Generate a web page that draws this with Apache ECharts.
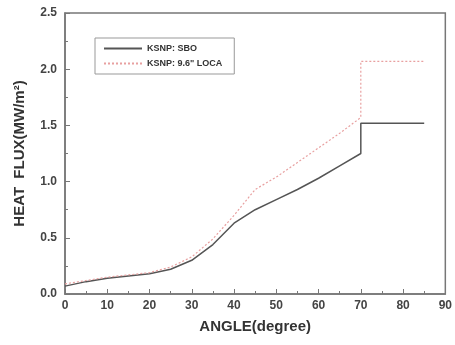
<!DOCTYPE html>
<html>
<head>
<meta charset="utf-8">
<script src="https://cdn.jsdelivr.net/npm/echarts@6/dist/echarts.min.js"></script>
<style>
  html, body { margin: 0; padding: 0; background: #fff; }
  #chart { width: 455px; height: 345px; }
</style>
</head>
<body>
<div id="chart"></div>
<script>
// angles (degree) and heat flux (MW/m2)
const sboAngle = [0, 5, 10, 15, 20, 25, 30, 35, 40, 45, 50, 55, 60, 65, 70, 70, 85];
const sboFlux = [0.07, 0.11, 0.14, 0.16, 0.18, 0.22, 0.30, 0.44, 0.63, 0.75, 0.84, 0.93, 1.03, 1.14, 1.25, 1.52, 1.52];

const locaAngle = [0, 5, 10, 15, 20, 25, 30, 35, 40, 45, 50, 55, 60, 65, 70, 70, 85];
const locaFlux = [0.09, 0.12, 0.15, 0.17, 0.19, 0.24, 0.33, 0.49, 0.70, 0.93, 1.04, 1.17, 1.30, 1.43, 1.57, 2.07, 2.07];

const seriesNames = ["KSNP: SBO", "KSNP: 9.6\" LOCA"];

const pairs = (xs, ys) => xs.map((x, i) => [x, ys[i]]);

const chart = echarts.init(document.getElementById("chart"));

const axisCol = "#777";
const labelStyle = { color: "#444", fontWeight: "bold", fontSize: 12, fontFamily: "Liberation Sans, Arial" };

const option = {
  animation: false,
  grid: {
    left: 65, right: 7, top: 13, bottom: 51,
    show: true, borderColor: axisCol, borderWidth: 1.5
  },
  legend: {
    left: 95, top: 38,
    orient: "vertical",
    itemWidth: 38, itemHeight: 8, itemGap: 6,
    padding: [6, 12, 6, 8],
    borderColor: "#999", borderWidth: 1,
    itemStyle: { opacity: 0 },
    textStyle: { color: "#333", fontWeight: "bold", fontSize: 9, fontFamily: "Liberation Sans, Arial" },
    data: seriesNames
  },
  xAxis: {
    type: "value", min: 0, max: 90, interval: 10,
    name: "ANGLE(degree)", nameLocation: "middle", nameGap: 25,
    nameTextStyle: { color: "#333", fontWeight: "bold", fontSize: 15, fontFamily: "Liberation Sans, Arial" },
    axisLine: { show: true, lineStyle: { color: axisCol, width: 1.5 } },
    axisTick: { inside: true, length: 5, lineStyle: { color: axisCol } },
    minorTick: { show: true, splitNumber: 2, length: 3, lineStyle: { color: axisCol } },
    axisLabel: Object.assign({ margin: 6 }, labelStyle),
    splitLine: { show: false }
  },
  yAxis: {
    type: "value", min: 0, max: 2.5, interval: 0.5,
    name: "HEAT  FLUX(MW/m²)", nameLocation: "middle", nameGap: 38,
    nameTextStyle: { color: "#333", fontWeight: "bold", fontSize: 15, fontFamily: "Liberation Sans, Arial" },
    axisLine: { show: true, lineStyle: { color: axisCol, width: 1.5 } },
    axisTick: { inside: true, length: 5, lineStyle: { color: axisCol } },
    minorTick: { show: true, splitNumber: 2, length: 3, lineStyle: { color: axisCol } },
    axisLabel: Object.assign({ margin: 8, formatter: v => v.toFixed(1) }, labelStyle),
    splitLine: { show: false }
  },
  series: [
    {
      name: seriesNames[0],
      type: "line", symbol: "none",
      data: pairs(sboAngle, sboFlux),
      lineStyle: { color: "#555", width: 1.5 },
      itemStyle: { color: "#555" }
    },
    {
      name: seriesNames[1],
      type: "line", symbol: "none",
      data: pairs(locaAngle, locaFlux),
      lineStyle: { color: "#e8a0a0", width: 1.2, type: [2, 2] },
      itemStyle: { color: "#e8a0a0" }
    }
  ]
};

chart.setOption(option);
</script>
</body>
</html>
